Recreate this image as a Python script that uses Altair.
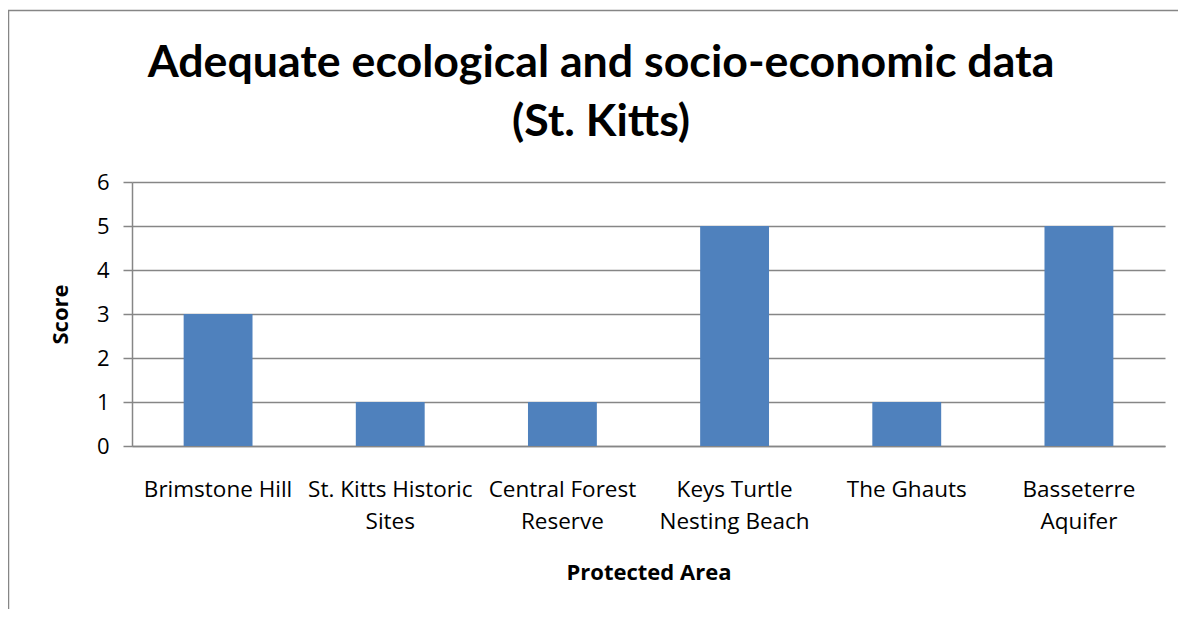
import altair as alt
import pandas as pd

categories = ["Brimstone Hill", "St. Kitts Historic\nSites", "Central Forest\nReserve",
              "Keys Turtle\nNesting Beach", "The Ghauts", "Basseterre\nAquifer"]
scores = [3, 1, 1, 5, 1, 5]
y_ticks = [0, 1, 2, 3, 4, 5, 6]
title_lines = ["Adequate ecological and socio-economic data", "(St. Kitts)"]

FONT = "Open Sans"
TFONT = "Lato"
GRAY = "#868686"

df = pd.DataFrame({"area": categories, "score": scores})

bars = alt.Chart(df).mark_bar(color="#4F81BD").encode(
    x=alt.X("area:N", sort=categories,
            scale=alt.Scale(paddingInner=0.6, paddingOuter=0.3),
            axis=alt.Axis(title="Protected Area", labelAngle=0,
                          labelExpr="split(datum.label, '\\n')",
                          labelFont=FONT, labelFontSize=22.5, labelColor="#000000",
                          labelLineHeight=32, labelPadding=32, ticks=False,
                          domainColor=GRAY, domainWidth=1.5,
                          titleFont=FONT, titleFontSize=22, titleFontWeight="bold",
                          titleColor="#000000", titlePadding=30, grid=False)),
    y=alt.Y("score:Q", scale=alt.Scale(domain=[0, 6], nice=False),
            axis=alt.Axis(title="Score", values=y_ticks, format="d",
                          labelFont=FONT, labelFontSize=22, labelColor="#000000",
                          labelPadding=14, tickSize=9, tickColor=GRAY, tickWidth=1.5,
                          domainColor=GRAY, domainWidth=1.5,
                          grid=True, gridColor=GRAY, gridWidth=1.5,
                          titleFont=FONT, titleFontSize=22, titleFontWeight="bold",
                          titleColor="#000000", titlePadding=24)),
)

title_df = pd.DataFrame({"k": [0]})
title = alt.Chart(title_df).mark_text(
    font=TFONT, fontSize=44.7, fontWeight="bold", color="#000000",
    align="center", baseline="alphabetic", lineHeight=59,
).encode(x=alt.value(469), y=alt.value(-105), text=alt.value(title_lines))

frame_df = pd.DataFrame({"k": [0]})
left_line = alt.Chart(frame_df).mark_rule(color=GRAY, strokeWidth=1.5).encode(
    x=alt.value(-123.5), y=alt.value(-172), y2=alt.value(440))
top_line = alt.Chart(frame_df).mark_rule(color=GRAY, strokeWidth=1.5).encode(
    x=alt.value(-124), x2=alt.value(1100), y=alt.value(-171.5))

chart = alt.layer(bars, title, left_line, top_line).properties(
    width=1033, height=264,
    autosize=alt.AutoSizeParams(type="none"),
    padding={"left": 124, "top": 174, "right": 13, "bottom": 163},
).configure_view(stroke=None)

chart.save("out.html", embed_options={"renderer": "svg", "actions": False})
